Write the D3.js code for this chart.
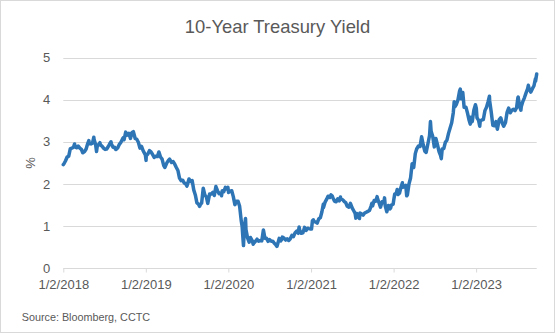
<!DOCTYPE html>
<html>
<head>
<meta charset="utf-8">
<script src="https://cdn.jsdelivr.net/npm/d3@7"></script>
<style>
html,body{margin:0;padding:0;background:#fff;}
svg{display:block;font-family:"Liberation Sans",Arial,sans-serif;}
</style>
</head>
<body>
<svg id="chart" width="555" height="333"></svg>
<script>
const title = "10-Year Treasury Yield";
const yLabel = "%";
const source = "Source: Bloomberg, CCTC";
const yTicks = [0, 1, 2, 3, 4, 5];
const xTickDates = ["2018-01-02","2019-01-02","2020-01-02","2021-01-02","2022-01-02","2023-01-02"];
const xTickLabels = ["1/2/2018","1/2/2019","1/2/2020","1/2/2021","1/2/2022","1/2/2023"];

const dates2018 = ["01-02","01-05","01-12","01-19","01-26","02-02","02-09","02-16","02-21","02-23","03-02","03-09","03-16","03-23","03-29","04-06","04-13","04-20","04-25","04-27","05-04","05-11","05-17","05-18","05-25","05-29","06-01","06-08","06-13","06-15","06-22","06-29","07-06","07-13","07-20","07-27","08-01","08-03","08-10","08-17","08-21","08-24","08-31","09-07","09-14","09-21","09-25","09-28","10-05","10-12","10-19","10-26","11-02","11-08","11-16","11-23","11-30","12-07","12-14","12-21","12-28","12-31"];
const yields2018 = [2.46,2.48,2.55,2.64,2.66,2.84,2.85,2.87,2.95,2.88,2.86,2.90,2.85,2.82,2.74,2.77,2.83,2.96,3.03,2.96,2.95,2.97,3.11,3.06,2.93,2.77,2.89,2.94,2.98,2.93,2.90,2.85,2.82,2.83,2.89,2.96,3.00,2.95,2.87,2.87,2.82,2.82,2.86,2.94,2.99,3.07,3.10,3.05,3.23,3.16,3.20,3.08,3.22,3.24,3.08,3.06,2.99,2.85,2.89,2.79,2.72,2.69];

const dates2019 = ["01-03","01-04","01-11","01-18","01-25","02-01","02-08","02-15","02-22","03-01","03-08","03-15","03-22","03-27","03-29","04-05","04-12","04-17","04-26","05-03","05-10","05-17","05-24","05-31","06-07","06-14","06-20","06-28","07-03","07-12","07-19","07-26","08-02","08-09","08-16","08-23","08-28","08-30","09-06","09-13","09-20","09-27","10-03","10-11","10-18","10-25","11-01","11-08","11-15","11-22","11-29","12-03","12-06","12-13","12-20","12-27","12-31"];
const yields2019 = [2.56,2.67,2.71,2.79,2.76,2.70,2.63,2.66,2.65,2.76,2.64,2.59,2.44,2.39,2.41,2.50,2.56,2.59,2.51,2.53,2.47,2.39,2.32,2.14,2.08,2.09,2.03,2.00,1.95,2.12,2.06,2.08,1.86,1.74,1.55,1.52,1.47,1.50,1.55,1.90,1.74,1.69,1.54,1.76,1.76,1.80,1.73,1.94,1.84,1.77,1.78,1.72,1.84,1.82,1.92,1.88,1.92];

const dates2020 = ["01-03","01-10","01-17","01-24","01-31","02-07","02-14","02-21","02-28","03-03","03-06","03-09","03-13","03-18","03-20","03-27","04-03","04-09","04-17","04-21","04-24","05-01","05-08","05-15","05-22","05-29","06-05","06-12","06-19","06-26","07-02","07-10","07-17","07-24","07-31","08-04","08-07","08-14","08-21","08-26","08-28","09-04","09-11","09-18","09-25","10-02","10-09","10-16","10-23","10-30","11-06","11-10","11-13","11-20","11-27","12-04","12-11","12-18","12-24","12-31"];
const yields2020 = [1.80,1.83,1.84,1.70,1.51,1.59,1.59,1.47,1.13,1.00,0.76,0.54,0.94,1.18,0.92,0.72,0.62,0.73,0.65,0.57,0.60,0.64,0.69,0.64,0.66,0.65,0.91,0.71,0.71,0.64,0.68,0.64,0.64,0.59,0.55,0.52,0.57,0.71,0.65,0.69,0.74,0.72,0.67,0.70,0.66,0.70,0.78,0.75,0.84,0.88,0.83,0.98,0.90,0.83,0.84,0.97,0.90,0.95,0.94,0.93];

const dates2021 = ["01-04","01-08","01-12","01-15","01-22","01-29","02-05","02-12","02-19","02-25","02-26","03-05","03-12","03-18","03-26","03-31","04-05","04-09","04-16","04-23","04-30","05-07","05-12","05-14","05-21","05-28","06-04","06-11","06-18","06-25","07-02","07-09","07-16","07-19","07-23","07-30","08-04","08-06","08-13","08-20","08-27","09-03","09-10","09-17","09-24","09-28","10-01","10-08","10-15","10-21","10-22","10-29","11-05","11-12","11-19","11-23","11-26","12-03","12-10","12-17","12-20","12-23","12-31"];
const yields2021 = [0.93,1.13,1.15,1.11,1.10,1.07,1.17,1.20,1.34,1.52,1.44,1.57,1.64,1.71,1.68,1.74,1.72,1.67,1.59,1.58,1.65,1.60,1.69,1.64,1.63,1.59,1.56,1.47,1.45,1.54,1.44,1.37,1.30,1.19,1.30,1.24,1.18,1.31,1.29,1.26,1.31,1.33,1.35,1.37,1.47,1.54,1.48,1.61,1.59,1.70,1.67,1.56,1.45,1.58,1.55,1.67,1.48,1.34,1.49,1.41,1.43,1.50,1.52];

const dates2022 = ["01-03","01-07","01-14","01-18","01-21","01-28","02-04","02-10","02-11","02-18","02-25","03-01","03-04","03-11","03-18","03-25","04-01","04-08","04-14","04-22","04-29","05-06","05-13","05-20","05-26","06-03","06-10","06-14","06-17","06-24","07-01","07-08","07-15","07-22","07-29","08-01","08-05","08-12","08-19","08-26","09-02","09-09","09-16","09-23","09-27","09-30","10-07","10-14","10-21","10-24","10-28","11-04","11-10","11-18","11-25","12-02","12-07","12-09","12-16","12-23","12-30"];
const yields2022 = [1.63,1.76,1.78,1.87,1.75,1.78,1.93,2.03,1.92,1.93,1.97,1.72,1.74,2.00,2.14,2.48,2.39,2.72,2.83,2.90,2.89,3.12,2.93,2.78,2.75,2.96,3.15,3.48,3.25,3.13,2.88,3.08,2.93,2.77,2.67,2.60,2.83,2.84,2.99,3.04,3.20,3.33,3.45,3.69,3.95,3.83,3.89,4.00,4.21,4.25,4.02,4.17,3.82,3.82,3.68,3.51,3.42,3.58,3.48,3.75,3.88];

const dates2023 = ["01-03","01-06","01-13","01-18","01-20","01-27","02-03","02-10","02-17","02-24","03-02","03-03","03-10","03-17","03-24","03-31","04-06","04-14","04-21","04-28","05-04","05-12","05-19","05-26","06-02","06-09","06-16","06-23","06-30","07-06","07-07","07-14","07-19","07-21","07-28","08-04","08-11","08-18","08-21","08-25","09-01","09-08","09-15","09-21","09-22","09-27"];
const yields2023 = [3.79,3.57,3.51,3.37,3.48,3.52,3.53,3.74,3.82,3.95,4.08,3.97,3.70,3.39,3.38,3.48,3.30,3.52,3.57,3.44,3.37,3.46,3.70,3.80,3.69,3.75,3.77,3.74,3.81,4.05,4.06,3.83,3.75,3.84,3.96,4.05,4.16,4.26,4.34,4.25,4.18,4.26,4.33,4.49,4.44,4.61];

(function () {
const parse = d3.timeParse("%Y-%m-%d");
const data = [];
[[2018,dates2018,yields2018],[2019,dates2019,yields2019],[2020,dates2020,yields2020],
 [2021,dates2021,yields2021],[2022,dates2022,yields2022],[2023,dates2023,yields2023]]
 .forEach(([yr, ds, vs]) => ds.forEach((d, i) => data.push({date: parse(yr + "-" + d), value: vs[i]})));

const svg = d3.select("#chart");
const W = 555, H = 333;
const pLeft = 63.3, pRight = 536.7, pTop = 57.5, pBottom = 268.3;
const grey = "#d9d9d9", textCol = "#595959";

svg.append("rect").attr("x",0.5).attr("y",0.5).attr("width",W-1).attr("height",H-1)
  .attr("fill","#fff").attr("stroke",grey).attr("stroke-width",1);

const x = d3.scaleTime().domain([parse("2018-01-02"), data[data.length-1].date]).range([pLeft, pRight]);
const y = d3.scaleLinear().domain([0, 5]).range([pBottom, pTop]);

// gridlines
svg.append("g").selectAll("line").data(yTicks.filter(t => t > 0)).join("line")
  .attr("x1", pLeft).attr("x2", pRight)
  .attr("y1", d => Math.round(y(d)) + 0.5).attr("y2", d => Math.round(y(d)) + 0.5)
  .attr("stroke", grey).attr("stroke-width", 1);

// x axis
const xAxis = d3.axisBottom(x)
  .tickValues(xTickDates.map(parse))
  .tickSize(4).tickSizeOuter(0)
  .tickFormat((d, i) => xTickLabels[i]);
const gx = svg.append("g").attr("transform", `translate(0,${Math.round(pBottom) + 0.5})`).call(xAxis);
gx.select(".domain").attr("stroke", grey).attr("d", `M${pLeft},0H${pRight}`);
gx.selectAll(".tick line").attr("stroke", grey);
gx.selectAll(".tick text").attr("fill", textCol).attr("font-size", 13)
  .attr("font-family", "Liberation Sans, Arial, sans-serif").attr("dy", 0).attr("y", 20.5);

// y axis labels
const yAxis = d3.axisLeft(y).tickValues(yTicks).tickSize(0).tickPadding(13).tickFormat(d3.format("d"));
const gy = svg.append("g").attr("transform", `translate(${pLeft},0)`).call(yAxis);
gy.select(".domain").remove();
gy.selectAll(".tick text").attr("fill", textCol).attr("font-size", 13)
  .attr("font-family", "Liberation Sans, Arial, sans-serif");

// line
svg.append("path").datum(data)
  .attr("fill", "none").attr("stroke", "#2e75b6").attr("stroke-width", 3.5)
  .attr("stroke-linejoin", "round").attr("stroke-linecap", "round")
  .attr("d", d3.line().x(d => x(d.date)).y(d => y(d.value)));

// title
svg.append("text").attr("x", 277.5).attr("y", 33.3).attr("text-anchor", "middle")
  .attr("fill", textCol).attr("font-size", 18.4).text(title);

// y label
svg.append("text").attr("transform", "translate(34.5,163) rotate(-90)")
  .attr("text-anchor", "middle").attr("fill", textCol).attr("font-size", 13).text(yLabel);

// source
svg.append("text").attr("x", 21.7).attr("y", 320.5).attr("fill", textCol)
  .attr("font-size", 10.8).text(source);
})();
</script>
</body>
</html>
